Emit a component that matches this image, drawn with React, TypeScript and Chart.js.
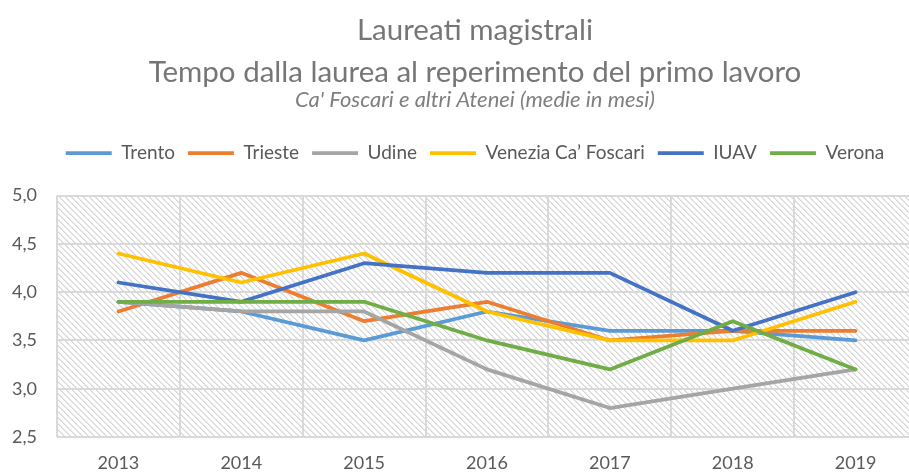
import React, { useEffect, useRef } from 'react';
import { Chart, registerables } from 'chart.js';

Chart.register(...registerables);

const YEARS = ['2013', '2014', '2015', '2016', '2017', '2018', '2019'];
const TRENTO = [3.9, 3.8, 3.5, 3.8, 3.6, 3.6, 3.5];
const TRIESTE = [3.8, 4.2, 3.7, 3.9, 3.5, 3.6, 3.6];
const UDINE = [3.9, 3.8, 3.8, 3.2, 2.8, 3.0, 3.2];
const VENEZIA = [4.4, 4.1, 4.4, 3.8, 3.5, 3.5, 3.9];
const IUAV = [4.1, 3.9, 4.3, 4.2, 4.2, 3.6, 4.0];
const VERONA = [3.9, 3.9, 3.9, 3.5, 3.2, 3.7, 3.2];
const SERIES_NAMES = ['Trento', 'Trieste', 'Udine', 'Venezia Ca\u2019 Foscari', 'IUAV', 'Verona'];
const SERIES_VALUES = [TRENTO, TRIESTE, UDINE, VENEZIA, IUAV, VERONA];
const SERIES_COLORS = ['#5B9BD5', '#ED7D31', '#A5A5A5', '#FFC000', '#4472C4', '#70AD47'];
const Y_MIN = 2.5;
const Y_MAX = 5.0;
const Y_STEP = 0.5;
const TITLE_LINES = ['Laureati magistrali', 'Tempo dalla laurea al reperimento del primo lavoro'];
const SUBTITLE = "Ca' Foscari e altri Atenei (medie in mesi)";

const FONT = 'Lato, "Open Sans", sans-serif';

function makeHatch(): CanvasPattern | string {
  const s = 6;
  const c = document.createElement('canvas');
  c.width = s;
  c.height = s;
  const ctx = c.getContext('2d');
  if (!ctx) return '#f0f0f0';
  ctx.fillStyle = '#ffffff';
  ctx.fillRect(0, 0, s, s);
  for (let y = 0; y < s; y++) {
    for (let x = 0; x < s; x++) {
      const d = (((x - y) % s) + s) % s;
      if (d === 0) {
        ctx.fillStyle = '#d4d4d4';
        ctx.fillRect(x, y, 1, 1);
      } else if (d === 1) {
        ctx.fillStyle = '#e8e8e8';
        ctx.fillRect(x, y, 1, 1);
      }
    }
  }
  const p = ctx.createPattern(c, 'repeat');
  return p || '#f0f0f0';
}

const backgroundPlugin = {
  id: 'hatchBg',
  beforeLayout(chart: any) {
    const lg = chart.legend;
    if (lg && !lg.__patched) {
      const orig = lg.fit;
      lg.fit = function () {
        orig.call(this);
        this.height += 23;
      };
      lg.__patched = true;
    }
  },
  beforeDraw(chart: any) {
    const { ctx, chartArea, width, height } = chart;
    ctx.save();
    ctx.fillStyle = '#ffffff';
    ctx.fillRect(0, 0, width, height);
    if (!chart.__hatch) chart.__hatch = makeHatch();
    ctx.fillStyle = chart.__hatch;
    ctx.fillRect(chartArea.left, chartArea.top, chartArea.right - chartArea.left, chartArea.bottom - chartArea.top);
    ctx.restore();
  },
};

export default function App() {
  const ref = useRef<HTMLCanvasElement | null>(null);

  useEffect(() => {
    if (!ref.current) return;
    const datasets = SERIES_NAMES.map((name, i) => ({
      label: name,
      data: SERIES_VALUES[i],
      borderColor: SERIES_COLORS[i],
      backgroundColor: SERIES_COLORS[i],
      borderWidth: 3.75,
      borderCapStyle: 'round' as const,
      borderJoinStyle: 'round' as const,
      pointRadius: 0,
      pointHoverRadius: 0,
      tension: 0,
      fill: false,
      order: SERIES_NAMES.length - 1 - i,
    }));

    const chart = new Chart(ref.current, {
      type: 'line',
      data: { labels: YEARS, datasets },
      plugins: [backgroundPlugin],
      options: {
        responsive: false,
        animation: false,
        events: [],
        layout: { padding: { top: 0, left: 0, right: 0, bottom: 0 } },
        plugins: {
          title: {
            display: true,
            text: TITLE_LINES,
            color: '#767676',
            font: { family: FONT, size: 29.5, weight: 'normal', lineHeight: 1.424 },
            padding: { top: 9.6, bottom: 0 },
          },
          subtitle: {
            display: true,
            text: SUBTITLE,
            color: '#7f7f7f',
            font: { family: FONT, size: 22, style: 'italic', weight: 'normal', lineHeight: 0.6 },
            padding: { top: 0, bottom: 23.8 },
          },
          legend: {
            display: true,
            position: 'top',
            labels: {
              color: '#595959',
              font: { family: FONT, size: 19 },
              usePointStyle: true,
              pointStyle: 'line',
              pointStyleWidth: 46,
              boxHeight: 19,
              padding: 13,
              sort: (a: any, b: any) => a.datasetIndex - b.datasetIndex,
            },
          },
          tooltip: { enabled: false },
        },
        scales: {
          x: {
            type: 'category',
            offset: true,
            grid: { display: true, offset: true, color: '#d9d9d9', lineWidth: 2, drawTicks: false },
            border: { display: false },
            ticks: { color: '#595959', font: { family: FONT, size: 18 }, padding: 15, maxRotation: 0 },
            afterFit: (scale: any) => {
              scale.height = 36;
            },
          },
          y: {
            type: 'linear',
            position: 'left',
            min: Y_MIN,
            max: Y_MAX,
            grid: { color: '#d9d9d9', lineWidth: 2, drawTicks: false },
            border: { display: false },
            ticks: {
              stepSize: Y_STEP,
              color: '#595959',
              font: { family: FONT, size: 18 },
              padding: 20,
              callback: (v: any) => Number(v).toFixed(1).replace('.', ','),
            },
            afterFit: (scale: any) => {
              scale.width = 57;
            },
          },
          y2: {
            type: 'linear',
            position: 'right',
            display: true,
            min: Y_MIN,
            max: Y_MAX,
            grid: { display: false, drawTicks: false },
            border: { display: false },
            ticks: { display: false },
            afterFit: (scale: any) => {
              scale.width = 33;
            },
          },
        },
      },
    });
    return () => chart.destroy();
  }, []);

  return (
    <div
      style={{
        position: 'fixed',
        left: 0,
        top: 0,
        width: 909,
        height: 473,
        overflow: 'hidden',
        background: '#ffffff',
      }}
    >
      <canvas ref={ref} width={950} height={473} style={{ display: 'block', width: 950, height: 473 }} />
    </div>
  );
}
